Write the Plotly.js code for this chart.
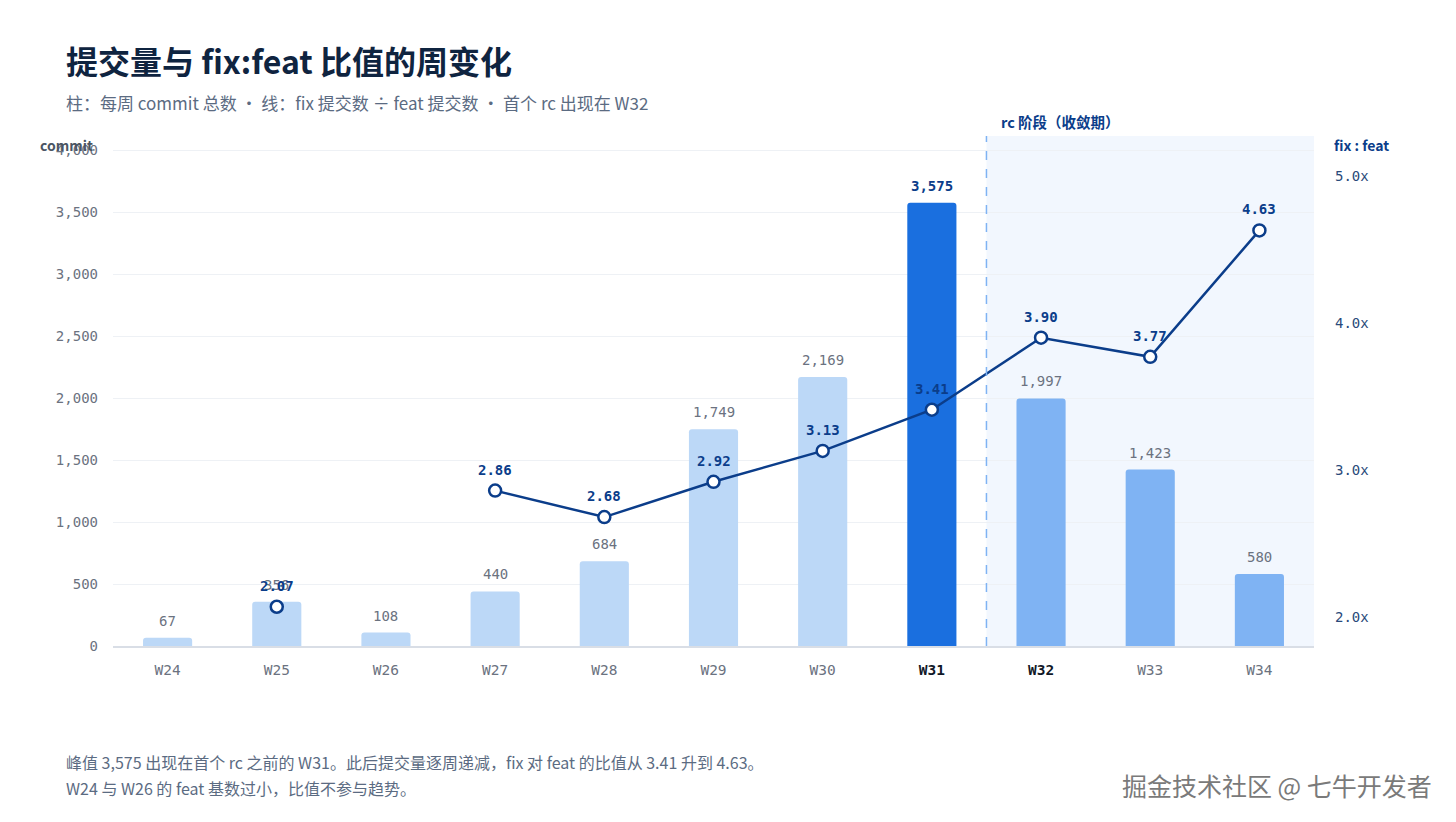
<!DOCTYPE html>
<html>
<head>
<meta charset="utf-8">
<script src="https://cdn.plot.ly/plotly-3.0.1.min.js"></script>
<style>
html, body { margin: 0; padding: 0; background: #fff; }
#chart { width: 1456px; height: 822px; }
</style>
</head>
<body>
<div id="chart"></div>
<script>
// weekly data
var weeks = ['W24', 'W25', 'W26', 'W27', 'W28', 'W29', 'W30', 'W31', 'W32', 'W33', 'W34'];
var commits = [67, 356, 108, 440, 684, 1749, 2169, 3575, 1997, 1423, 580];
var ratio = [null, 2.07, null, 2.86, 2.68, 2.92, 3.13, 3.41, 3.90, 3.77, 4.63];
var ratioTicks = [2, 3, 4, 5];
var ratioTickText = ['2.0x', '3.0x', '4.0x', '5.0x'];

var CJK = '"Noto Sans CJK SC", "Noto Sans", sans-serif';
var MONO = '"DejaVu Sans Mono", monospace';
var NAVY = '#0b3d8a';

// plot area in pixels: left 113, right 1314, top 136, bottom 646
function px(x) { return (x - 113) / 1201; }
function py(y) { return (646 - y) / 510; }

var barColors = commits.map(function (v, i) {
  if (i === 7) return '#1a6fdf';
  if (i > 7) return '#7fb3f3';
  return '#bcd8f7';
});

var tickText = weeks.map(function (w, i) {
  if (i === 7 || i === 8) return '<b><span style="color:#111827">' + w + '</span></b>';
  return w;
});

var bars = {
  type: 'bar',
  x: weeks,
  y: commits,
  marker: { color: barColors, cornerradius: 3 },
  hoverinfo: 'x+y',
  showlegend: false
};

var line = {
  type: 'scatter',
  mode: 'lines+markers',
  x: weeks,
  y: ratio,
  yaxis: 'y2',
  connectgaps: false,
  line: { color: NAVY, width: 2.5 },
  marker: { size: 12, color: '#ffffff', line: { color: NAVY, width: 2.5 } },
  cliponaxis: false,
  showlegend: false
};

// value labels for bars and ratio points
var barLabels = commits.map(function (v, i) {
  var s = v.toLocaleString('en-US');
  return {
    xref: 'x', yref: 'y', x: weeks[i], y: v,
    xanchor: 'center', yanchor: 'bottom', yshift: 7, showarrow: false,
    text: i === 7 ? '<b>' + s + '</b>' : s,
    font: { family: MONO, size: 14, color: i === 7 ? NAVY : '#6b7280' }
  };
});
var ratioLabels = [];
ratio.forEach(function (v, i) {
  if (v == null) return;
  ratioLabels.push({
    xref: 'x', yref: 'y2', x: weeks[i], y: v,
    xanchor: 'center', yanchor: 'bottom', yshift: 11, showarrow: false,
    text: '<b>' + v.toFixed(2) + '</b>',
    font: { family: MONO, size: 14, color: NAVY }
  });
});

var textNotes = [
  {
    xref: 'paper', yref: 'paper', x: px(64), y: py(60),
    xanchor: 'left', yanchor: 'middle', showarrow: false,
    text: '<b>提交量与 fix:feat 比值的周变化</b>',
    font: { family: CJK, size: 32, color: '#0f2440' }
  },
  {
    xref: 'paper', yref: 'paper', x: px(64), y: py(102),
    xanchor: 'left', yanchor: 'middle', showarrow: false,
    text: '柱：每周 commit 总数 · 线：fix 提交数 ÷ feat 提交数 · 首个 rc 出现在 W32',
    font: { family: CJK, size: 17, color: '#5b6b82' }
  },
  {
    xref: 'paper', yref: 'paper', x: px(38), y: py(145),
    xanchor: 'left', yanchor: 'middle', showarrow: false,
    text: '<b>commit</b>',
    font: { family: CJK, size: 14, color: '#4b5563' }
  },
  {
    xref: 'paper', yref: 'paper', x: px(1332), y: py(145),
    xanchor: 'left', yanchor: 'middle', showarrow: false,
    text: '<b>fix : feat</b>',
    font: { family: CJK, size: 14, color: NAVY }
  },
  {
    xref: 'paper', yref: 'paper', x: px(999), y: py(121),
    xanchor: 'left', yanchor: 'middle', showarrow: false,
    text: '<b>rc 阶段（收敛期）</b>',
    font: { family: CJK, size: 14.5, color: NAVY }
  },
  {
    xref: 'paper', yref: 'paper', x: px(64), y: py(762),
    xanchor: 'left', yanchor: 'middle', showarrow: false,
    text: '峰值 3,575 出现在首个 rc 之前的 W31。此后提交量逐周递减，fix 对 feat 的比值从 3.41 升到 4.63。',
    font: { family: CJK, size: 16, color: '#5b6b82' }
  },
  {
    xref: 'paper', yref: 'paper', x: px(64), y: py(788),
    xanchor: 'left', yanchor: 'middle', showarrow: false,
    text: 'W24 与 W26 的 feat 基数过小，比值不参与趋势。',
    font: { family: CJK, size: 16, color: '#5b6b82' }
  },
  {
    xref: 'paper', yref: 'paper', x: px(1434), y: py(785),
    xanchor: 'right', yanchor: 'middle', showarrow: false,
    text: '掘金技术社区 @ 七牛开发者',
    font: { family: CJK, size: 25, color: '#7a7a7a' }
  }
];

var layout = {
  width: 1456,
  height: 822,
  margin: { l: 113, r: 142, t: 136, b: 176 },
  paper_bgcolor: '#ffffff',
  plot_bgcolor: 'rgba(0,0,0,0)',
  bargap: 0.55,
  font: { family: CJK, color: '#4b5563' },
  xaxis: {
    type: 'category',
    range: [-0.5, 10.5],
    tickvals: weeks,
    ticktext: tickText,
    tickfont: { family: MONO, size: 14.5, color: '#6b7280' },
    showline: true,
    linecolor: '#d9dee6',
    linewidth: 1.5,
    ticks: '',
    ticklabelstandoff: 10,
    showgrid: false
  },
  yaxis: {
    range: [0, 4113],
    tickvals: [0, 500, 1000, 1500, 2000, 2500, 3000, 3500, 4000],
    tickformat: ',d',
    tickfont: { family: MONO, size: 14, color: '#6b7280' },
    gridcolor: '#eef1f5',
    zeroline: false,
    ticklabelstandoff: 14,
    ticks: ''
  },
  yaxis2: {
    overlaying: 'y',
    side: 'right',
    range: [1.803, 5.272],
    tickvals: ratioTicks,
    ticktext: ratioTickText,
    tickfont: { family: MONO, size: 14, color: '#2a4a7a' },
    showgrid: false,
    zeroline: false,
    ticklabelstandoff: 20,
    ticks: ''
  },
  shapes: [
    {
      type: 'rect', xref: 'x', yref: 'paper',
      x0: 7.5, x1: 10.5, y0: 0, y1: 1,
      fillcolor: '#f2f7fe', line: { width: 0 }, layer: 'below'
    },
    {
      type: 'line', xref: 'x', yref: 'paper',
      x0: 7.5, x1: 7.5, y0: 0, y1: 1,
      line: { color: '#7fb3f3', width: 1.5, dash: 'dash' }
    }
  ],
  annotations: barLabels.concat(ratioLabels, textNotes)
};

Plotly.newPlot('chart', [bars, line], layout, { displayModeBar: false, staticPlot: true });
</script>
</body>
</html>
